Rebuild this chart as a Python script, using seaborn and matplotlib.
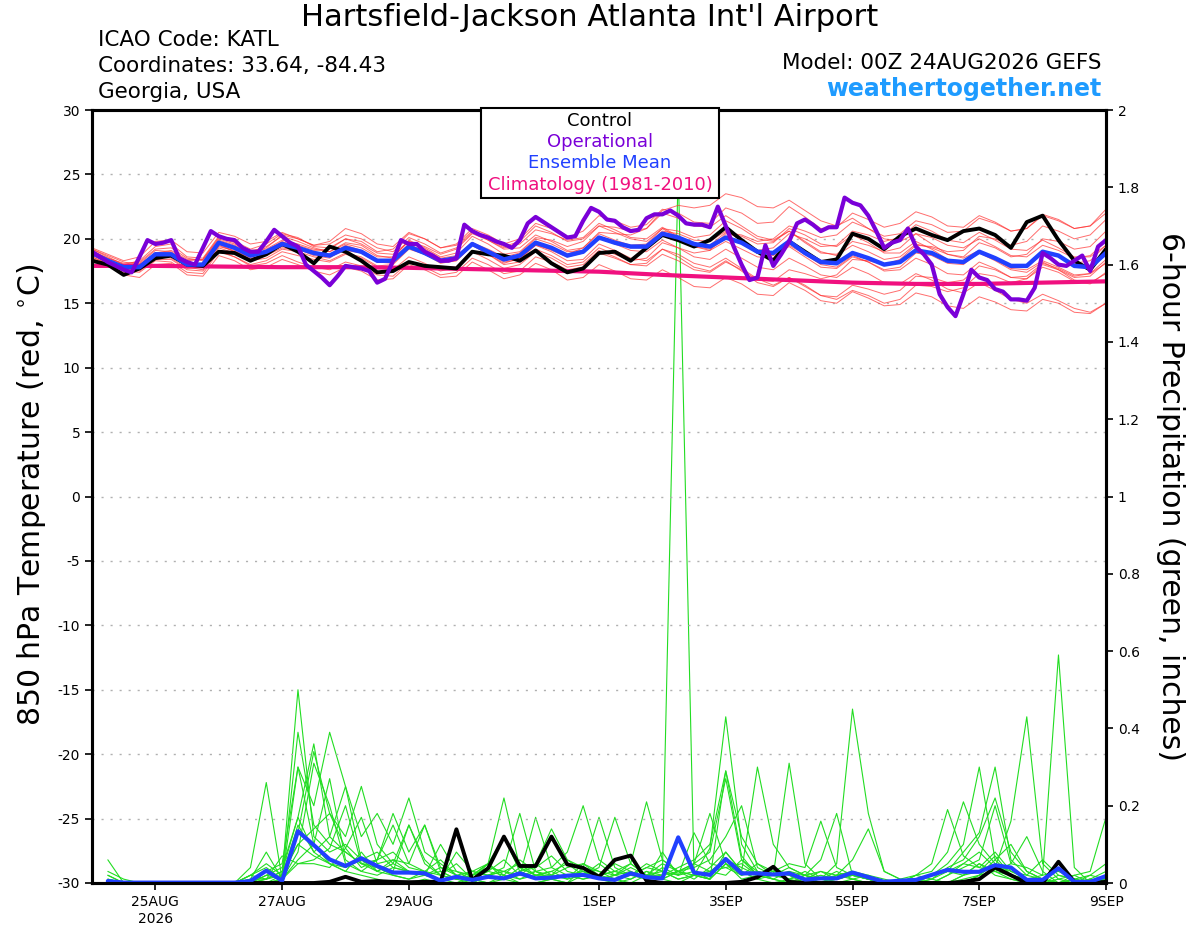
import numpy as np
import pandas as pd
import matplotlib
matplotlib.use("Agg")
import matplotlib.pyplot as plt
import seaborn as sns
from matplotlib.patches import Rectangle

# ---------------- DATA ----------------
run_start = "2026-08-24 00:00"
tick_dates = ["2026-08-25", "2026-08-27", "2026-08-29", "2026-09-01",
              "2026-09-03", "2026-09-05", "2026-09-07", "2026-09-09"]
tick_labels = ["25AUG\n2026", "27AUG", "29AUG", "1SEP", "3SEP", "5SEP", "7SEP", "9SEP"]
temp_ticks = [-30, -25, -20, -15, -10, -5, 0, 5, 10, 15, 20, 25, 30]
precip_ticks = [0, 0.2, 0.4, 0.6, 0.8, 1.0, 1.2, 1.4, 1.6, 1.8, 2.0]
precip_tick_labels = ["0", "0.2", "0.4", "0.6", "0.8", "1", "1.2", "1.4", "1.6", "1.8", "2"]

# 6-hourly 850 hPa temperature (00Z 24AUG .. 00Z 9SEP)
control_temp = [18.3, 18.0, 17.2, 17.7, 18.5, 18.7, 18.0, 17.9, 19.0, 18.9, 18.3, 18.8, 19.6, 19.0, 18.1, 19.4, 19.0,
                18.3, 17.4, 17.5, 18.2, 17.9, 17.8, 17.7, 19.0, 18.8, 18.7, 18.3, 19.1, 18.1, 17.4, 17.7, 18.9,
                19.0, 18.3, 19.3, 20.3, 19.9, 19.4, 19.9, 20.9, 19.9, 19.0, 18.3, 19.8, 19.0, 18.2, 18.4, 20.4,
                20.0, 19.2, 20.2, 20.8, 20.3, 19.9, 20.6, 20.8, 20.3, 19.3, 21.3, 21.8, 19.9, 18.3, 17.6, 19.2]
mean_temp = [18.9, 18.3, 17.8, 17.8, 18.8, 18.8, 18.0, 18.0, 19.7, 19.3, 18.7, 19.0, 19.6, 19.3, 18.9, 18.7, 19.3,
             19.0, 18.3, 18.3, 19.4, 18.9, 18.3, 18.5, 19.6, 19.0, 18.4, 18.7, 19.7, 19.3, 18.7, 19.0, 20.1,
             19.7, 19.4, 19.4, 20.4, 20.1, 19.6, 19.4, 20.1, 19.7, 19.0, 18.9, 19.8, 18.9, 18.2, 18.1, 18.9,
             18.5, 18.0, 18.2, 19.1, 18.9, 18.3, 18.2, 19.0, 18.5, 17.9, 17.9, 19.0, 18.7, 17.9, 17.8, 18.9]
# 3-hourly operational run
oper_temp = [19.0, 18.6, 18.2, 17.9, 17.6, 17.4, 18.6, 19.9, 19.6, 19.7, 19.9, 18.5, 18.2, 18.0, 19.3, 20.6, 20.2,
             20.0, 19.9, 19.3, 19.0, 19.0, 19.8, 20.7, 20.2, 19.7, 19.4, 18.0, 17.5, 17.0, 16.4, 17.1, 17.9,
             17.8, 17.7, 17.5, 16.6, 16.9, 18.3, 19.9, 19.6, 19.6, 19.0, 18.7, 18.3, 18.3, 18.5, 21.1, 20.6,
             20.3, 20.1, 19.8, 19.6, 19.3, 19.9, 21.2, 21.7, 21.3, 20.9, 20.5, 20.1, 20.2, 21.4, 22.4, 22.1,
             21.5, 21.4, 20.9, 20.6, 20.7, 21.6, 21.9, 21.9, 22.2, 21.8, 21.2, 21.1, 21.1, 20.9, 22.5, 21.0,
             19.4, 18.0, 16.8, 17.0, 19.5, 17.9, 18.8, 19.8, 21.2, 21.5, 21.1, 20.6, 20.9, 20.9, 23.2, 22.8,
             22.6, 21.8, 20.6, 19.3, 19.7, 19.9, 20.8, 19.4, 18.8, 18.0, 15.7, 14.7, 14.0, 15.7, 17.6, 17.0,
             16.8, 16.1, 15.9, 15.3, 15.3, 15.2, 16.2, 18.9, 18.5, 18.0, 17.9, 18.3, 18.7, 17.5, 19.4, 19.9]
# daily climatology
clim_temp = [17.9, 17.9, 17.85, 17.8, 17.8, 17.75, 17.65, 17.55, 17.45, 17.2, 17.0, 16.8, 16.6, 16.5, 16.5, 16.6, 16.7]

mem_t01 = [19.2, 18.6, 18.0, 18.3, 19.4, 19.6, 18.6, 18.5, 20.2, 19.8, 19.2, 19.6, 20.4, 20.1, 19.4, 19.3, 20.0,
           19.8, 19.0, 19.2, 20.4, 20.0, 19.3, 19.6, 20.8, 20.3, 19.6, 20.0, 21.2, 20.8, 20.1, 20.6, 21.8,
           21.4, 20.9, 21.1, 22.3, 22.0, 21.3, 21.2, 22.4, 22.0, 21.2, 21.3, 22.5, 21.7, 20.8, 20.9, 22.0,
           21.5, 20.9, 21.2, 22.1, 21.7, 21.0, 20.9, 21.8, 21.3, 20.6, 20.8, 21.9, 21.5, 20.8, 21.0, 22.3]
mem_t02 = [18.6, 18.0, 17.2, 17.0, 18.0, 18.1, 17.2, 17.1, 18.7, 18.3, 17.6, 17.8, 18.4, 18.0, 17.5, 17.2, 17.8,
           17.5, 16.8, 16.9, 18.0, 17.6, 17.0, 17.1, 18.2, 17.6, 16.9, 17.2, 18.1, 17.6, 16.8, 17.0, 18.0,
           17.5, 16.9, 16.8, 17.6, 17.0, 16.3, 16.2, 17.0, 16.5, 15.7, 15.6, 16.6, 16.0, 15.2, 15.0, 15.9,
           15.4, 14.8, 14.9, 15.8, 15.5, 14.8, 14.6, 15.5, 15.1, 14.5, 14.4, 15.3, 15.0, 14.3, 14.2, 15.0]
mem_t03 = [19.0, 18.4, 17.9, 18.1, 19.1, 19.0, 18.3, 18.4, 20.0, 19.6, 19.0, 19.4, 20.2, 19.8, 19.3, 19.0, 19.7,
           19.5, 18.7, 18.5, 19.9, 19.3, 18.6, 18.9, 20.2, 19.6, 18.8, 19.0, 20.1, 19.9, 19.4, 19.8, 21.0,
           20.9, 20.6, 20.8, 22.0, 21.6, 21.0, 20.9, 21.8, 21.0, 20.2, 19.9, 20.6, 19.8, 19.0, 18.7, 19.5,
           19.0, 18.4, 18.6, 19.6, 19.3, 18.8, 18.6, 19.7, 19.3, 18.6, 18.8, 20.0, 19.8, 19.2, 19.4, 20.6]
mem_t04 = [18.8, 18.1, 17.5, 17.4, 18.3, 18.2, 17.4, 17.3, 19.0, 18.6, 18.0, 18.3, 19.0, 18.7, 18.4, 18.2, 18.8,
           18.5, 17.8, 17.6, 18.6, 18.1, 17.5, 17.8, 19.0, 18.4, 17.7, 18.0, 19.0, 18.5, 17.8, 18.0, 19.1,
           18.6, 18.0, 17.9, 18.8, 18.3, 17.6, 17.4, 18.2, 17.6, 16.8, 16.7, 17.6, 17.3, 16.9, 17.2, 18.4,
           18.3, 18.0, 18.4, 19.5, 19.4, 19.0, 19.1, 20.2, 20.0, 19.5, 19.8, 21.0, 20.6, 20.0, 20.3, 21.5]
mem_t05 = [19.3, 18.8, 18.3, 18.6, 19.8, 19.9, 19.0, 18.9, 20.5, 20.2, 19.6, 19.8, 20.5, 20.0, 19.5, 19.6, 20.3,
           20.0, 19.3, 19.0, 20.1, 19.6, 18.9, 19.3, 20.5, 20.0, 19.4, 19.8, 21.0, 20.5, 19.8, 20.0, 21.0,
           20.5, 20.0, 19.8, 20.8, 20.1, 19.4, 19.1, 19.8, 19.2, 18.6, 18.5, 19.5, 18.8, 18.0, 17.8, 18.7,
           18.2, 17.5, 17.6, 18.5, 18.0, 17.3, 17.2, 18.2, 17.7, 17.0, 16.9, 17.8, 17.4, 16.7, 16.5, 17.4]
mem_t06 = [18.9, 18.2, 17.6, 17.7, 18.6, 18.9, 18.1, 17.9, 19.5, 19.0, 18.4, 18.9, 19.7, 19.5, 19.1, 19.2, 20.0,
           19.6, 18.9, 18.8, 19.8, 19.2, 18.5, 18.7, 19.7, 19.1, 18.3, 18.5, 19.5, 19.2, 18.8, 19.3, 20.5,
           20.4, 20.3, 20.8, 22.2, 22.6, 22.4, 22.6, 23.5, 23.2, 22.5, 22.4, 23.0, 22.2, 21.4, 21.0, 21.6,
           20.8, 20.0, 19.8, 20.4, 19.6, 18.8, 18.5, 19.1, 18.4, 17.7, 17.6, 18.3, 17.8, 17.2, 17.3, 18.1]
mem_t07 = [18.7, 18.2, 17.7, 17.9, 18.9, 18.7, 17.8, 17.6, 19.3, 18.9, 18.3, 18.5, 19.2, 19.0, 18.6, 18.3, 18.9,
           18.6, 17.9, 18.0, 19.2, 18.8, 18.2, 18.3, 19.5, 18.9, 18.2, 18.4, 19.5, 19.0, 18.3, 18.4, 19.6,
           19.1, 18.5, 18.3, 19.2, 18.6, 17.8, 17.5, 18.3, 17.5, 16.6, 16.3, 17.0, 16.4, 15.6, 15.3, 16.0,
           15.6, 15.0, 15.3, 16.4, 16.3, 15.9, 16.2, 17.3, 17.1, 16.6, 16.9, 18.0, 17.6, 17.0, 17.1, 18.2]
mem_t08 = [19.1, 18.5, 18.0, 17.9, 18.7, 18.8, 18.0, 18.1, 19.8, 19.4, 18.8, 19.1, 19.8, 19.3, 18.8, 18.6, 19.1,
           18.9, 18.2, 18.1, 19.3, 18.8, 18.1, 18.3, 19.5, 18.8, 18.1, 18.5, 19.6, 19.1, 18.6, 18.9, 20.0,
           19.7, 19.3, 19.3, 20.3, 19.9, 19.4, 19.5, 20.5, 20.3, 19.8, 20.0, 21.0, 20.6, 20.1, 20.3, 21.3,
           20.8, 20.2, 20.4, 21.4, 21.1, 20.5, 20.6, 21.6, 21.2, 20.6, 20.8, 21.8, 21.4, 20.8, 21.0, 22.0]
mem_t09 = [18.5, 17.9, 17.4, 17.6, 18.6, 18.5, 17.7, 17.8, 19.4, 19.1, 18.5, 18.7, 19.3, 19.1, 18.9, 18.6, 19.2,
           18.9, 18.2, 18.2, 19.3, 18.9, 18.3, 18.5, 19.6, 19.0, 18.4, 18.7, 19.7, 19.3, 18.7, 19.0, 20.1,
           19.6, 19.1, 19.0, 19.9, 19.3, 18.6, 18.4, 19.2, 18.5, 17.8, 17.6, 18.5, 17.9, 17.2, 17.0, 17.8,
           17.3, 16.6, 16.5, 17.3, 16.8, 16.1, 15.8, 16.6, 16.0, 15.3, 15.0, 15.7, 15.2, 14.6, 14.3, 15.0]
mem_t10 = [19.0, 18.5, 18.1, 18.2, 19.2, 19.3, 18.5, 18.3, 19.9, 19.5, 18.9, 19.3, 20.3, 20.0, 19.5, 19.8, 20.8,
           20.4, 19.6, 19.4, 20.5, 20.0, 19.3, 19.5, 20.6, 19.9, 19.2, 19.3, 20.3, 19.8, 19.1, 19.3, 20.4,
           19.9, 19.5, 19.6, 20.8, 20.6, 20.1, 20.3, 21.4, 20.8, 20.0, 19.8, 20.6, 19.7, 18.9, 18.8, 19.8,
           19.5, 19.0, 19.3, 20.4, 20.1, 19.5, 19.3, 20.0, 19.4, 18.7, 18.6, 19.5, 19.1, 18.5, 18.7, 19.8]
mem_t11 = [18.8, 18.3, 17.8, 17.5, 18.4, 18.4, 17.6, 17.5, 19.1, 18.6, 17.9, 18.1, 18.7, 18.2, 17.8, 17.6, 18.2,
           17.9, 17.2, 17.1, 18.2, 17.8, 17.2, 17.4, 18.5, 18.0, 17.3, 17.5, 18.6, 18.2, 17.6, 17.8, 18.9,
           18.5, 18.0, 18.1, 19.2, 18.8, 18.1, 17.8, 18.5, 17.7, 16.9, 16.4, 17.0, 16.3, 15.6, 15.5, 16.4,
           16.1, 15.7, 16.0, 17.1, 17.0, 16.6, 16.8, 17.9, 17.6, 17.0, 17.1, 18.1, 17.7, 17.1, 17.3, 18.4]
mem_t12 = [19.2, 18.7, 18.2, 18.0, 18.9, 19.1, 18.4, 18.4, 20.1, 19.7, 19.1, 19.2, 19.9, 19.6, 19.2, 19.0, 19.6,
           19.3, 18.6, 18.6, 19.8, 19.4, 18.8, 19.2, 20.4, 19.9, 19.3, 19.6, 20.7, 20.4, 19.9, 20.1, 21.2,
           20.7, 20.1, 20.0, 20.9, 20.2, 19.4, 19.2, 20.0, 19.6, 19.1, 19.3, 20.4, 20.0, 19.4, 19.5, 20.6,
           20.3, 19.8, 20.1, 21.1, 20.6, 19.9, 19.7, 20.5, 19.9, 19.2, 19.1, 19.9, 19.3, 18.6, 18.6, 19.5]
mem_t13 = [18.6, 18.1, 17.6, 17.8, 18.8, 18.6, 17.9, 17.8, 19.6, 19.0, 18.6, 18.9, 19.4, 19.2, 18.7, 18.5, 19.4,
           19.0, 18.4, 18.4, 19.6, 19.0, 18.4, 18.6, 19.5, 18.8, 18.0, 18.2, 19.2, 18.7, 18.0, 18.2, 19.3,
           18.8, 18.3, 18.5, 19.7, 19.3, 18.9, 19.1, 20.4, 20.2, 19.6, 19.7, 20.8, 20.3, 19.6, 19.4, 20.3,
           19.7, 18.9, 18.9, 19.8, 19.2, 18.4, 18.1, 18.9, 18.3, 17.6, 17.4, 18.2, 17.6, 16.8, 16.6, 17.3]
mem_t14 = [18.9, 18.4, 17.9, 18.0, 18.9, 18.9, 18.0, 18.1, 19.7, 19.4, 18.7, 19.0, 19.6, 19.4, 19.0, 18.8, 19.5,
           19.1, 18.4, 18.2, 19.3, 18.8, 18.2, 18.4, 19.7, 19.2, 18.6, 18.9, 20.0, 19.6, 19.0, 19.1, 20.2,
           19.8, 19.4, 19.5, 20.6, 20.4, 19.9, 19.8, 20.6, 19.9, 19.0, 18.7, 19.4, 18.6, 17.8, 17.7, 18.6,
           18.2, 17.6, 17.8, 18.9, 18.7, 18.1, 18.0, 19.0, 18.6, 17.9, 17.9, 19.0, 18.7, 18.1, 18.3, 19.5]

# 6-hour precipitation (06Z 24AUG .. 00Z 9SEP)
control_precip = [0, 0, 0, 0, 0, 0, 0, 0, 0, 0, 0, 0, 0, 0, 0.003, 0.016,
                  0.003, 0.005, 0.003, 0.002, 0.003, 0.003, 0.139, 0.008, 0.038, 0.12, 0.044, 0.044, 0.12, 0.048, 0.039, 0.016,
                  0.060, 0.071, 0.006, 0, 0, 0, 0, 0, 0.003, 0.015, 0.042, 0.003, 0, 0, 0, 0,
                  0, 0, 0, 0, 0, 0, 0.003, 0.01, 0.040, 0.02, 0, 0, 0.055, 0.003, 0, 0.003]
mean_precip = [0.005, 0.001, 0.001, 0.001, 0.001, 0.001, 0.001, 0.001, 0.001, 0.005, 0.032, 0.006, 0.134, 0.098, 0.061, 0.044,
               0.064, 0.044, 0.027, 0.027, 0.025, 0.006, 0.016, 0.008, 0.016, 0.012, 0.025, 0.012, 0.014, 0.019, 0.021, 0.012,
               0.008, 0.025, 0.015, 0.012, 0.118, 0.027, 0.021, 0.062, 0.025, 0.025, 0.022, 0.025, 0.009, 0.012, 0.012, 0.027,
               0.015, 0.003, 0.006, 0.008, 0.021, 0.034, 0.029, 0.029, 0.046, 0.040, 0.008, 0.008, 0.038, 0.003, 0.003, 0.018]

mem_p01 = [0, 0, 0, 0, 0, 0, 0, 0, 0, 0, 0, 0.02, 0.15, 0.08, 0.05, 0.03,
           0.02, 0.01, 0, 0, 0.01, 0, 0, 0.02, 0.05, 0.01, 0, 0, 0.01, 0.02, 0.03, 0.01,
           0.01, 0, 0.02, 0.02, 1.85, 0.02, 0.01, 0.08, 0.03, 0.01, 0, 0.01, 0, 0, 0, 0.01,
           0, 0, 0, 0, 0, 0, 0.02, 0.05, 0.03, 0.01, 0, 0, 0, 0.01, 0, 0]
mem_p02 = [0.06, 0, 0, 0, 0, 0, 0, 0, 0, 0.02, 0.05, 0.02, 0.50, 0.12, 0.08, 0.10,
           0.06, 0.04, 0.02, 0.01, 0.03, 0, 0, 0.01, 0, 0.02, 0, 0, 0.01, 0, 0.02, 0.05,
           0.02, 0.01, 0.03, 0.01, 0, 0.02, 0.09, 0.43, 0.10, 0.03, 0.01, 0, 0.01, 0, 0.02, 0.01,
           0, 0, 0, 0, 0, 0, 0, 0.02, 0.06, 0.10, 0.03, 0.01, 0, 0, 0.01, 0]
mem_p03 = [0.03, 0.01, 0, 0, 0, 0, 0, 0, 0, 0.04, 0.26, 0.01, 0.13, 0.34, 0.18, 0.12,
           0.25, 0.10, 0.05, 0.03, 0.02, 0.01, 0, 0, 0.02, 0.03, 0.05, 0.02, 0.01, 0, 0.04, 0.03,
           0.01, 0.02, 0.02, 0.05, 0.03, 0.02, 0.01, 0.29, 0.12, 0.05, 0.02, 0.01, 0.03, 0.01, 0, 0,
           0, 0, 0, 0.01, 0.02, 0.03, 0.08, 0.13, 0.30, 0.06, 0.02, 0.01, 0, 0, 0.01, 0.03]
mem_p04 = [0.01, 0, 0, 0, 0, 0, 0, 0, 0, 0.01, 0.08, 0.01, 0.30, 0.20, 0.39, 0.25,
           0.12, 0.18, 0.10, 0.22, 0.08, 0.05, 0.02, 0.01, 0, 0.01, 0.02, 0.03, 0.01, 0.02, 0.01, 0.02,
           0.03, 0.05, 0.02, 0.01, 0.03, 0.05, 0.08, 0.27, 0.06, 0.02, 0.01, 0.03, 0.02, 0.01, 0.05, 0.45,
           0.18, 0.03, 0.01, 0, 0, 0, 0.01, 0.02, 0.05, 0.03, 0.01, 0, 0, 0.02, 0, 0.01]
mem_p05 = [0.02, 0, 0, 0, 0, 0, 0, 0, 0, 0.02, 0.04, 0.01, 0.39, 0.15, 0.10, 0.08,
           0.05, 0.06, 0.18, 0.08, 0.15, 0.04, 0.02, 0.01, 0.05, 0.22, 0.04, 0.02, 0.03, 0.01, 0.02, 0.01,
           0, 0.01, 0.03, 0.02, 0.03, 0.02, 0.01, 0.05, 0.01, 0.02, 0.04, 0.02, 0, 0, 0.01, 0.02,
           0.01, 0, 0, 0.01, 0, 0.02, 0.05, 0.08, 0.04, 0.16, 0.43, 0.05, 0.01, 0, 0.02, 0.01]
mem_p06 = [0, 0, 0, 0, 0, 0, 0, 0, 0, 0, 0.03, 0.05, 0.30, 0.10, 0.05, 0.03,
           0.08, 0.03, 0.05, 0.15, 0.06, 0.02, 0.01, 0.03, 0.05, 0.02, 0.06, 0.03, 0.04, 0.08, 0.20, 0.06,
           0.03, 0.02, 0.01, 0.08, 0.02, 0.03, 0.01, 0.05, 0.02, 0.03, 0.02, 0.31, 0.05, 0.01, 0.02, 0.03,
           0.01, 0, 0, 0.02, 0.01, 0.03, 0.02, 0.05, 0.02, 0.01, 0, 0, 0.02, 0.01, 0, 0.01]
mem_p07 = [0.01, 0, 0, 0, 0, 0, 0, 0, 0, 0, 0.02, 0.04, 0.17, 0.36, 0.12, 0.08,
           0.05, 0.03, 0.06, 0.05, 0.15, 0.03, 0.01, 0, 0.02, 0.01, 0.03, 0.05, 0.02, 0.06, 0.04, 0.17,
           0.04, 0.02, 0.05, 0.03, 0.01, 0.02, 0.03, 0.02, 0.06, 0.03, 0.02, 0.04, 0.02, 0.06, 0.18, 0.02,
           0.01, 0, 0, 0, 0.01, 0, 0, 0.02, 0.03, 0.02, 0.01, 0.02, 0.59, 0.04, 0, 0.01]
mem_p08 = [0, 0, 0, 0, 0, 0, 0, 0, 0, 0, 0.01, 0.03, 0.17, 0.08, 0.12, 0.25,
           0.06, 0.08, 0.04, 0.03, 0.02, 0.01, 0.08, 0.03, 0.02, 0.04, 0.18, 0.03, 0.01, 0.02, 0.01, 0.02,
           0.05, 0.03, 0.01, 0.02, 0.04, 0.06, 0.10, 0.29, 0.07, 0.02, 0.01, 0, 0.02, 0.01, 0.03, 0.01,
           0.02, 0, 0, 0, 0.02, 0.05, 0.10, 0.30, 0.06, 0.02, 0.01, 0, 0, 0.01, 0, 0.02]
mem_p09 = [0, 0, 0, 0, 0, 0, 0, 0, 0, 0, 0.02, 0.01, 0.08, 0.31, 0.20, 0.05,
           0.03, 0.06, 0.08, 0.04, 0.03, 0.02, 0.05, 0.01, 0.03, 0.06, 0.02, 0.17, 0.04, 0.02, 0.03, 0.01,
           0.02, 0.05, 0.21, 0.06, 0.03, 0.01, 0.04, 0.08, 0.03, 0.30, 0.10, 0.04, 0.02, 0.03, 0.01, 0.02,
           0.01, 0, 0, 0, 0, 0, 0.02, 0.03, 0.07, 0.02, 0.01, 0, 0.01, 0.02, 0.03, 0.17]
mem_p10 = [0, 0, 0, 0, 0, 0, 0, 0, 0, 0, 0.01, 0.02, 0.10, 0.14, 0.18, 0.09,
           0.17, 0.05, 0.06, 0.03, 0.02, 0.04, 0.03, 0.02, 0.05, 0.12, 0.03, 0.04, 0.07, 0.03, 0.02, 0.04,
           0.17, 0.05, 0.02, 0.03, 0.01, 0.02, 0.03, 0.06, 0.04, 0.02, 0.03, 0.05, 0.04, 0.16, 0.04, 0.02,
           0.01, 0, 0, 0.02, 0.03, 0.08, 0.21, 0.10, 0.05, 0.02, 0.01, 0, 0, 0, 0.01, 0]
mem_p11 = [0, 0, 0, 0, 0, 0, 0, 0, 0, 0.02, 0.01, 0.07, 0.05, 0.06, 0.09, 0.20,
           0.05, 0.04, 0.03, 0.15, 0.05, 0.02, 0.01, 0.02, 0.04, 0.03, 0.02, 0.05, 0.14, 0.06, 0.03, 0.02,
           0.01, 0.02, 0.04, 0.06, 0.03, 0.05, 0.18, 0.05, 0.03, 0.01, 0.02, 0.03, 0.01, 0, 0.02, 0.03,
           0.01, 0, 0, 0, 0.01, 0.04, 0.06, 0.12, 0.22, 0.08, 0.03, 0.01, 0, 0.01, 0, 0]
mem_p12 = [0.02, 0, 0, 0, 0, 0, 0, 0, 0, 0, 0, 0.01, 0.05, 0.05, 0.04, 0.09,
           0.04, 0.06, 0.15, 0.05, 0.03, 0.06, 0.02, 0.03, 0.02, 0.01, 0.04, 0.02, 0.03, 0.05, 0.02, 0.01,
           0.02, 0.03, 0.01, 0.04, 0.02, 0.13, 0.05, 0.04, 0.02, 0.05, 0.03, 0.02, 0.01, 0.03, 0.02, 0.06,
           0.14, 0.03, 0.01, 0.02, 0.05, 0.19, 0.07, 0.04, 0.08, 0.03, 0.02, 0.06, 0.02, 0.01, 0.02, 0.05]
mem_p13 = [0, 0, 0, 0, 0, 0, 0, 0, 0, 0, 0, 0.01, 0.06, 0.10, 0.27, 0.06,
           0.03, 0.02, 0.04, 0.03, 0.02, 0.10, 0.03, 0.01, 0.02, 0.03, 0.01, 0.02, 0.02, 0.01, 0.05, 0.03,
           0.02, 0.04, 0.02, 0.01, 0.03, 0.04, 0.06, 0.12, 0.20, 0.04, 0.02, 0.01, 0.02, 0, 0.01, 0.02,
           0.01, 0, 0, 0, 0, 0.02, 0.04, 0.06, 0.20, 0.05, 0.12, 0.03, 0, 0, 0.01, 0]
mem_p14 = [0, 0, 0, 0, 0, 0, 0, 0, 0, 0.01, 0.01, 0.03, 0.10, 0.07, 0.05, 0.04,
           0.06, 0.03, 0.02, 0.01, 0.02, 0.03, 0.01, 0.02, 0.03, 0.02, 0.01, 0.03, 0.02, 0.04, 0.05, 0.02,
           0.03, 0.02, 0.04, 0.03, 0.02, 0.05, 0.03, 0.04, 0.05, 0.02, 0.03, 0.02, 0.01, 0.02, 0.01, 0.03,
           0.02, 0.01, 0, 0.01, 0.02, 0.03, 0.05, 0.04, 0.03, 0.05, 0.04, 0.02, 0.03, 0.01, 0, 0.02]

temp_members = [mem_t01, mem_t02, mem_t03, mem_t04, mem_t05, mem_t06, mem_t07,
                mem_t08, mem_t09, mem_t10, mem_t11, mem_t12, mem_t13, mem_t14]
precip_members = [mem_p01, mem_p02, mem_p03, mem_p04, mem_p05, mem_p06, mem_p07,
                  mem_p08, mem_p09, mem_p10, mem_p11, mem_p12, mem_p13, mem_p14]

# ---------------- TIME AXES ----------------
t_temp = pd.date_range(run_start, periods=len(mean_temp), freq="6h")
t_oper = pd.date_range(run_start, periods=len(oper_temp), freq="3h")
t_clim = pd.date_range(run_start, periods=len(clim_temp), freq="1D")
t_prec = pd.date_range(run_start, periods=len(mean_precip) + 1, freq="6h")[1:]

df_tm = pd.concat([pd.DataFrame({"time": t_temp, "val": m, "member": i})
                   for i, m in enumerate(temp_members)], ignore_index=True)
df_pm = pd.concat([pd.DataFrame({"time": t_prec, "val": m, "member": i})
                   for i, m in enumerate(precip_members)], ignore_index=True)

# ---------------- PLOT ----------------
sns.set_style("ticks")
plt.rcParams["font.family"] = ["DejaVu Sans"]
plt.rcParams["text.color"] = "black"
plt.rcParams["axes.labelcolor"] = "black"
plt.rcParams["xtick.color"] = "black"
plt.rcParams["ytick.color"] = "black"

fig = plt.figure(figsize=(12, 9.27), dpi=100)
ax = fig.add_axes([92 / 1200, 1 - 883 / 927, (1106 - 92) / 1200, (883 - 110) / 927])
ax2 = ax.twinx()
ax.set_zorder(ax2.get_zorder() + 1)
ax.patch.set_visible(False)

# precipitation (right axis)
sns.lineplot(data=df_pm, x="time", y="val", units="member", estimator=None,
             color="#22dd22", lw=0.8, ax=ax2, legend=False)
sns.lineplot(x=t_prec, y=control_precip, color="black", lw=2.8, ax=ax2)
sns.lineplot(x=t_prec, y=mean_precip, color="#2040ff", lw=3.0, ax=ax2)

# temperature (left axis)
sns.lineplot(data=df_tm, x="time", y="val", units="member", estimator=None,
             color="#ff3030", lw=0.7, alpha=0.7, ax=ax, legend=False)
sns.lineplot(x=t_clim, y=clim_temp, color="#f0107f", lw=3.0, ax=ax)
sns.lineplot(x=t_temp, y=control_temp, color="black", lw=2.8, ax=ax)
sns.lineplot(x=t_temp, y=mean_temp, color="#2040ff", lw=3.2, ax=ax)
sns.lineplot(x=t_oper, y=oper_temp, color="#7a00d8", lw=3.0, ax=ax)

# axes formatting
ax.set_xlim(pd.Timestamp(run_start), pd.Timestamp(tick_dates[-1]))
ax.set_ylim(-30, 30)
ax2.set_ylim(0, 2)
ax.set_yticks(temp_ticks)
ax.set_yticklabels([str(v) for v in temp_ticks])
ax2.set_yticks(precip_ticks)
ax2.set_yticklabels(precip_tick_labels)
ax.set_xticks(pd.to_datetime(tick_dates))
ax.set_xticklabels(tick_labels)
ax.set_xlabel("")
ax.set_ylabel("")
ax2.set_xlabel("")
ax2.set_ylabel("")
for a in (ax, ax2):
    a.tick_params(axis="both", direction="out", length=5, width=1.2, labelsize=10, colors="black")
    for s in a.spines.values():
        s.set_visible(True)
        s.set_linewidth(2.2)
        s.set_color("black")
ax.tick_params(axis="x", pad=4)
for v in temp_ticks[1:-1]:
    ax.axhline(v, color="#b0b0b0", lw=1.0, ls=(0, (1.5, 5)), zorder=0)

# legend box
fig.add_artist(Rectangle((481 / 1200, 1 - 198 / 927), (719 - 481) / 1200, 90 / 927,
                         transform=fig.transFigure, facecolor="white", edgecolor="black",
                         lw=1.5, zorder=10))
leg_items = [("Control", "black", 121), ("Operational", "#7a00d8", 142),
             ("Ensemble Mean", "#2040ff", 163), ("Climatology (1981-2010)", "#f0107f", 185)]
for txt, col, ypx in leg_items:
    fig.text(600 / 1200, 1 - ypx / 927, txt, color=col, ha="center", va="center",
             fontsize=13, zorder=11)

# header texts
fig.text(590 / 1200, 1 - 18 / 927, "Hartsfield-Jackson Atlanta Int'l Airport",
         ha="center", va="center", fontsize=22)
fig.text(98 / 1200, 1 - 40 / 927, "ICAO Code: KATL", ha="left", va="center", fontsize=15.5)
fig.text(98 / 1200, 1 - 66 / 927, "Coordinates: 33.64, -84.43", ha="left", va="center", fontsize=15.5)
fig.text(98 / 1200, 1 - 92 / 927, "Georgia, USA", ha="left", va="center", fontsize=15.5)
fig.text(1101 / 1200, 1 - 63 / 927, "Model: 00Z 24AUG2026 GEFS", ha="right", va="center", fontsize=15.5)
fig.text(1101 / 1200, 1 - 89 / 927, "weathertogether.net", ha="right", va="center",
         fontsize=17, fontweight="bold", color="#1e9bff")

# axis titles
fig.text(32 / 1200, 1 - 495 / 927, "850 hPa Temperature (red, $^{\\circ}$C)", rotation=90,
         ha="center", va="center", fontsize=21.5)
fig.text(1170 / 1200, 1 - 496 / 927, "6-hour Precipitation (green, inches)", rotation=270,
         ha="center", va="center", fontsize=21.5)

fig.savefig("out.png", dpi=100)
